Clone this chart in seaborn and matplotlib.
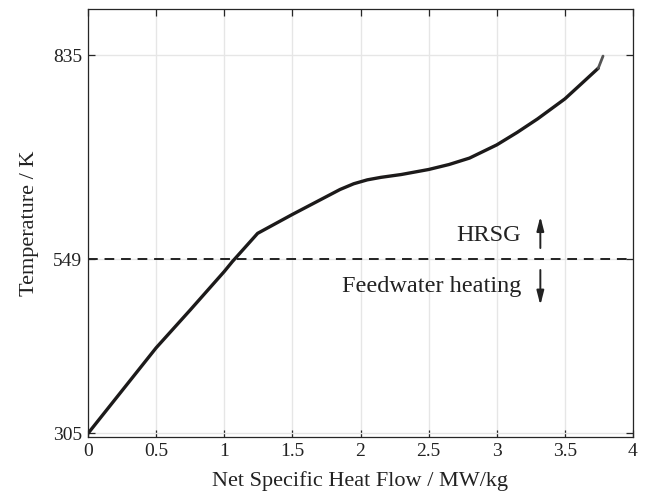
import matplotlib
matplotlib.use("Agg")
import matplotlib.pyplot as plt
import seaborn as sns
import pandas as pd

# Data
heat_flow = [0.0, 0.5, 0.75, 1.0, 1.06, 1.245, 1.5, 1.75, 1.85, 1.95, 2.05, 2.15, 2.3, 2.5,
             2.65, 2.8, 3.0, 3.15, 3.3, 3.5, 3.62, 3.745]
temperature = [305, 425, 478, 532, 546, 585.5, 612, 637, 647, 655, 660.5, 664, 668, 675,
               682, 691, 709.5, 727, 746, 774, 795, 817]
tail_x = [3.745, 3.78]
tail_y = [817, 834]
boundary_T = 549
y_ticks = [305, 549, 835]
x_ticks = [0, 0.5, 1, 1.5, 2, 2.5, 3, 3.5, 4]
x_tick_labels = ["0", "0.5", "1", "1.5", "2", "2.5", "3", "3.5", "4"]

sns.set_theme(style="whitegrid")
plt.rcParams['font.family'] = ['Liberation Serif', 'DejaVu Serif']

fig = plt.figure(figsize=(6.6, 4.93), dpi=100)
ax = fig.add_axes([88/660, 1-437/493, (633-88)/660, (437-9)/493])

df = pd.DataFrame({"q": heat_flow, "T": temperature})
sns.lineplot(data=df, x="q", y="T", ax=ax, color="#1c1a1a", linewidth=2.4, sort=False)
tail = pd.DataFrame({"q": tail_x, "T": tail_y})
sns.lineplot(data=tail, x="q", y="T", ax=ax, color="#555555", linewidth=2.0, sort=False)

ax.axhline(boundary_T, color="#222222", linewidth=1.4, linestyle=(0, (5, 3.5)))

ax.set_xlim(0, 4)
ax.set_ylim(300, 900)
ax.set_xticks(x_ticks)
ax.set_xticklabels(x_tick_labels)
ax.set_yticks(y_ticks)
ax.set_yticklabels([str(t) for t in y_ticks])

ax.grid(True, color="#e6e6e6", linewidth=1.0)
for s in ax.spines.values():
    s.set_visible(True)
    s.set_color("#262626")
    s.set_linewidth(0.9)

ax.tick_params(axis="both", which="both", direction="in", length=5, width=0.9,
               color="#262626", labelsize=14, labelcolor="#222222",
               top=True, right=True, bottom=True, left=True, pad=4)
ax.set_xlabel("Net Specific Heat Flow / MW/kg", fontsize=16, color="#222222", labelpad=8)
ax.set_ylabel("Temperature / K", fontsize=16, color="#222222", labelpad=10)

ax.text(3.18, 582, "HRSG", ha="right", va="center", fontsize=17.5, color="#222222")
ax.text(3.18, 511, "Feedwater heating", ha="right", va="center", fontsize=17.5, color="#222222")
ax.annotate("", xy=(3.32, 613), xytext=(3.32, 561),
            arrowprops=dict(arrowstyle="-|>,head_length=0.7,head_width=0.18", color="#222222", lw=1.4))
ax.annotate("", xy=(3.32, 481), xytext=(3.32, 538),
            arrowprops=dict(arrowstyle="-|>,head_length=0.7,head_width=0.18", color="#222222", lw=1.4))

fig.savefig("out.png", dpi=100, facecolor="white")
